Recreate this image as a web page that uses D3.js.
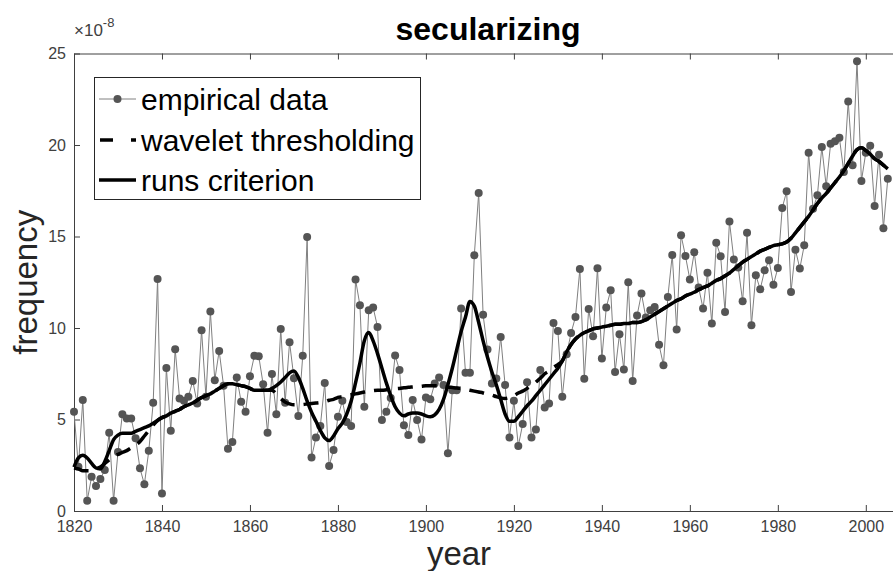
<!DOCTYPE html>
<html>
<head>
<meta charset="utf-8">
<script src="https://cdn.jsdelivr.net/npm/d3@7"></script>
<style>
  html, body { margin: 0; padding: 0; background: #fff; }
  svg { display: block; font-family: "Liberation Sans", Arial, sans-serif; }
</style>
</head>
<body>
<div id="app"></div>
<script>
// years shown on the chart (one value per year)
let firstYear = 1820;
let lastYear = 2005;

// empirical frequency, in units of 1e-8
let empirical = [
  5.42, 2.42, 6.06, 0.56, 1.87, 1.36, 1.75, 2.24, 4.28, 0.56,   // 1820s
  3.22, 5.29, 5.06, 5.06, 3.97, 2.33, 1.46, 3.29, 5.91, 12.68,  // 1830s
  0.96, 7.82, 4.38, 8.84, 6.15, 6.02, 6.24, 7.11, 5.88, 9.88,   // 1840s
  6.24, 10.9, 7.15, 8.75, 6.85, 3.40, 3.77, 7.30, 5.97, 5.42,   // 1850s
  7.37, 8.48, 8.46, 6.93, 4.28, 7.48, 5.29, 9.95, 5.91, 9.22,   // 1860s
  7.26, 5.19, 8.48, 14.97, 2.93, 4.02, 4.64, 7.00, 2.46, 3.33,  // 1870s
  5.15, 6.02, 4.87, 4.64, 12.65, 11.24, 5.70, 10.97, 11.12, 10.06, // 1880s
  4.97, 5.42, 6.18, 8.50, 7.70, 4.69, 4.15, 6.06, 4.97, 3.91,   // 1890s
  6.20, 6.10, 6.97, 7.30, 6.88, 3.15, 6.60, 6.60, 11.06, 7.55,  // 1900s
  7.55, 13.97, 17.38, 10.72, 8.83, 6.97, 7.24, 9.51, 6.88, 4.02, // 1910s
  6.02, 3.55, 4.75, 7.04, 4.02, 4.46, 7.70, 5.66, 5.88, 10.28,  // 1920s
  9.84, 6.24, 8.57, 9.73, 10.6, 13.23, 7.22, 11.04, 9.55, 13.26, // 1930s
  8.33, 11.12, 12.06, 7.60, 9.66, 7.73, 12.5, 7.11, 10.68, 11.88, // 1940s
  10.57, 10.97, 11.15, 9.08, 7.97, 11.7, 13.99, 9.92, 15.07, 13.94, // 1950s
  12.65, 14.14, 12.21, 11.07, 13.02, 10.24, 14.66, 13.92, 10.88, 15.82, // 1960s
  13.75, 13.3, 11.46, 15.21, 10.15, 12.88, 12.12, 13.15, 13.7, 12.37, // 1970s
  13.28, 16.56, 17.47, 11.97, 14.28, 13.25, 14.52, 19.58, 16.52, 17.25, // 1980s
  19.89, 17.74, 20.07, 20.21, 20.39, 18.52, 22.38, 18.89, 24.58, 18.03, // 1990s
  19.58, 19.96, 16.67, 19.47, 15.45, 18.16                        // 2000s
];

// wavelet thresholding trend
let wavelet = [
  2.35, 2.30, 2.20, 2.20, 2.20, 2.30, 2.40, 2.60, 2.80, 3.00,
  3.10, 3.20, 3.30, 3.45, 3.60, 3.80, 4.10, 4.40, 4.70, 4.95,
  5.10, 5.20, 5.35, 5.45, 5.55, 5.70, 5.80, 5.90, 6.05, 6.20,
  6.30, 6.40, 6.55, 6.70, 6.85, 6.95, 6.95, 6.90, 6.85, 6.80,
  6.70, 6.60, 6.60, 6.60, 6.60, 6.60, 6.40, 6.15, 5.95, 5.85,
  5.80, 5.80, 5.82, 5.85, 5.88, 5.90, 5.93, 5.97, 6.05, 6.10,
  6.20, 6.25, 6.30, 6.35, 6.40, 6.45, 6.50, 6.55, 6.58, 6.60,
  6.60, 6.62, 6.65, 6.68, 6.70, 6.73, 6.76, 6.78, 6.80, 6.82,
  6.85, 6.85, 6.85, 6.85, 6.80, 6.78, 6.75, 6.72, 6.70, 6.65,
  6.60, 6.55, 6.50, 6.45, 6.38, 6.33, 6.25, 6.18, 6.15, 6.20,
  6.30, 6.45, 6.55, 6.70, 6.85, 7.05, 7.25, 7.50, 7.65, 7.85,
  8.00, 8.20, 8.70, 9.10, 9.40, 9.60, 9.75, 9.85, 9.95, 10.0,
  10.05, 10.1, 10.15, 10.2, 10.2, 10.25, 10.25, 10.3, 10.3, 10.35,
  10.45, 10.6, 10.75, 10.9, 11.05, 11.2, 11.35, 11.5, 11.6, 11.75,
  11.85, 11.95, 12.1, 12.2, 12.3, 12.45, 12.6, 12.7, 12.85, 13.0,
  13.2, 13.4, 13.6, 13.75, 13.9, 14.05, 14.2, 14.3, 14.4, 14.5,
  14.55, 14.6, 14.7, 14.9, 15.2, 15.5, 15.8, 16.1, 16.45, 16.8,
  17.1, 17.35, 17.65, 17.95, 18.25, 18.6, 19.0, 19.4, 19.75, 19.85,
  19.7, 19.5, 19.25, 19.1, 18.9, 18.7
];

// runs criterion trend
let runs = [
  2.40, 2.90, 3.05, 2.90, 2.60, 2.35, 2.30, 2.70, 3.30, 3.90,
  4.15, 4.25, 4.25, 4.25, 4.35, 4.45, 4.55, 4.65, 4.80, 4.95,
  5.10, 5.20, 5.35, 5.45, 5.55, 5.70, 5.80, 5.90, 6.05, 6.20,
  6.30, 6.40, 6.55, 6.70, 6.85, 6.95, 6.95, 6.90, 6.85, 6.80,
  6.70, 6.60, 6.60, 6.60, 6.60, 6.70, 6.85, 7.05, 7.30, 7.55,
  7.65, 7.30, 6.70, 6.00, 5.40, 4.90, 4.40, 4.00, 3.85, 4.10,
  4.50, 4.80, 5.30, 6.00, 7.00, 8.10, 9.30, 9.75, 9.30, 8.60,
  7.80, 7.00, 6.30, 5.70, 5.35, 5.20, 5.30, 5.35, 5.35, 5.30,
  5.20, 5.15, 5.25, 5.55, 6.10, 6.90, 7.80, 8.80, 9.80, 10.6,
  11.45, 11.2, 10.3, 9.30, 8.40, 7.60, 6.90, 6.10, 5.30, 4.90,
  4.90, 5.15, 5.45, 5.75, 6.00, 6.30, 6.60, 6.90, 7.20, 7.50,
  7.80, 8.20, 8.70, 9.10, 9.40, 9.60, 9.75, 9.85, 9.95, 10.0,
  10.05, 10.1, 10.15, 10.2, 10.2, 10.25, 10.25, 10.3, 10.3, 10.35,
  10.45, 10.6, 10.75, 10.9, 11.05, 11.2, 11.35, 11.5, 11.6, 11.75,
  11.85, 11.95, 12.1, 12.2, 12.3, 12.45, 12.6, 12.7, 12.85, 13.0,
  13.2, 13.4, 13.6, 13.75, 13.9, 14.05, 14.2, 14.3, 14.4, 14.5,
  14.55, 14.6, 14.7, 14.9, 15.2, 15.5, 15.8, 16.1, 16.45, 16.8,
  17.1, 17.35, 17.65, 17.95, 18.25, 18.6, 19.0, 19.4, 19.75, 19.85,
  19.7, 19.5, 19.25, 19.1, 18.9, 18.7
];

let xTicks = [1820, 1840, 1860, 1880, 1900, 1920, 1940, 1960, 1980, 2000];
let yTicks = [0, 5, 10, 15, 20, 25];
let legendLabels = ['empirical data', 'wavelet thresholding', 'runs criterion'];

let years = d3.range(firstYear, lastYear + 1);

let svgWidth = 893;
let svgHeight = 571;

let margin = {top: 53.5, left: 74, bottom: 60};
let plotRight = 901;   // axes box runs past the right edge of the picture

let svg = d3.select('#app').append('svg')
    .attr('width', svgWidth)
    .attr('height', svgHeight);

let x = d3.scaleLinear().domain([1820, 2008]).range([margin.left, plotRight]);
let y = d3.scaleLinear().domain([0, 25]).range([511, margin.top]);

let axisColor = '#404040';
let tickLen = 6;

        //axes: bottom, top and left, ticks pointing inward
let gx = svg.append('g')
    .attr('transform', `translate(0,${y(0)})`)
    .call(d3.axisBottom(x).tickValues(xTicks).tickFormat(d3.format('d')).tickSizeInner(-tickLen).tickSizeOuter(0).tickPadding(10));

let gxTop = svg.append('g')
    .attr('transform', `translate(0,${y(25)})`)
    .call(d3.axisTop(x).tickValues(xTicks).tickFormat('').tickSizeInner(-tickLen).tickSizeOuter(0));

let gy = svg.append('g')
    .attr('transform', `translate(${x(1820)},0)`)
    .call(d3.axisLeft(y).tickValues(yTicks).tickFormat(d3.format('d')).tickSizeInner(-tickLen).tickSizeOuter(0).tickPadding(8));

[gx, gxTop, gy].forEach(g => {
    g.select('.domain').attr('stroke', axisColor).attr('stroke-width', 1);
    g.selectAll('.tick line').attr('stroke', axisColor).attr('stroke-width', 1);
    g.selectAll('.tick text')
        .attr('fill', axisColor)
        .style('font-size', '16px')
        .style('font-family', '"Liberation Sans", Arial, sans-serif');
});

        //exponent label
let expo = svg.append('text')
    .attr('x', 74)
    .attr('y', 36)
    .attr('fill', axisColor)
    .style('font-size', '17px');
expo.append('tspan').text('\u00d710');
expo.append('tspan').attr('dy', -9).style('font-size', '13px').text('-8');

        //title and axis labels
svg.append('text')
    .attr('x', 488)
    .attr('y', 40)
    .attr('text-anchor', 'middle')
    .attr('fill', '#000')
    .style('font-size', '32px')
    .style('font-weight', 'bold')
    .text('secularizing');

svg.append('text')
    .attr('x', 459)
    .attr('y', 565)
    .attr('text-anchor', 'middle')
    .attr('fill', '#262626')
    .style('font-size', '33px')
    .text('year');

svg.append('text')
    .attr('transform', `translate(37,${(y(0) + y(25)) / 2}) rotate(-90)`)
    .attr('text-anchor', 'middle')
    .attr('fill', '#262626')
    .style('font-size', '33px')
    .text('frequency');

        //series
let empData = years.map((yr, i) => ({year: yr, v: empirical[i]}));
let wavData = years.map((yr, i) => ({year: yr, v: wavelet[i]}));
let runData = years.map((yr, i) => ({year: yr, v: runs[i]}));

let straight = d3.line().x(d => x(d.year)).y(d => y(d.v));
let smooth = d3.line().x(d => x(d.year)).y(d => y(d.v)).curve(d3.curveMonotoneX);

svg.append('path')
    .datum(empData)
    .attr('fill', 'none')
    .attr('stroke', '#808080')
    .attr('stroke-width', 1)
    .attr('d', straight);

svg.append('g')
    .selectAll('circle')
    .data(empData)
    .enter().append('circle')
        .attr('cx', d => x(d.year))
        .attr('cy', d => y(d.v))
        .attr('r', 4)
        .attr('fill', '#555');

svg.append('path')
    .datum(wavData)
    .attr('fill', 'none')
    .attr('stroke', '#000')
    .attr('stroke-width', 3.5)
    .attr('stroke-dasharray', '15,9')
    .attr('d', smooth);

svg.append('path')
    .datum(runData)
    .attr('fill', 'none')
    .attr('stroke', '#000')
    .attr('stroke-width', 3.5)
    .attr('stroke-linejoin', 'round')
    .attr('d', smooth);

        //legend box
let legend = svg.append('g');
legend.append('rect')
    .attr('x', 94.5)
    .attr('y', 77.5)
    .attr('width', 326)
    .attr('height', 122)
    .attr('fill', '#fff')
    .attr('stroke', '#262626')
    .attr('stroke-width', 1);

let rowY = [99, 140, 180];
let sampleX = [99, 136];

legend.append('line')
    .attr('x1', sampleX[0]).attr('x2', sampleX[1])
    .attr('y1', rowY[0]).attr('y2', rowY[0])
    .attr('stroke', '#808080').attr('stroke-width', 1);
legend.append('circle')
    .attr('cx', (sampleX[0] + sampleX[1]) / 2).attr('cy', rowY[0])
    .attr('r', 4).attr('fill', '#555');

legend.append('line')
    .attr('x1', sampleX[0] + 1).attr('x2', sampleX[1])
    .attr('y1', rowY[1]).attr('y2', rowY[1])
    .attr('stroke', '#000').attr('stroke-width', 3.5)
    .attr('stroke-dasharray', '13,18');

legend.append('line')
    .attr('x1', sampleX[0]).attr('x2', sampleX[1])
    .attr('y1', rowY[2]).attr('y2', rowY[2])
    .attr('stroke', '#000').attr('stroke-width', 3.5);

legend.selectAll('text.label')
    .data(legendLabels)
    .enter().append('text')
        .attr('class', 'label')
        .attr('x', 141)
        .attr('y', (d, i) => rowY[i] + 11)
        .attr('fill', '#000')
        .style('font-size', '30px')
        .text(d => d);
</script>
</body>
</html>
